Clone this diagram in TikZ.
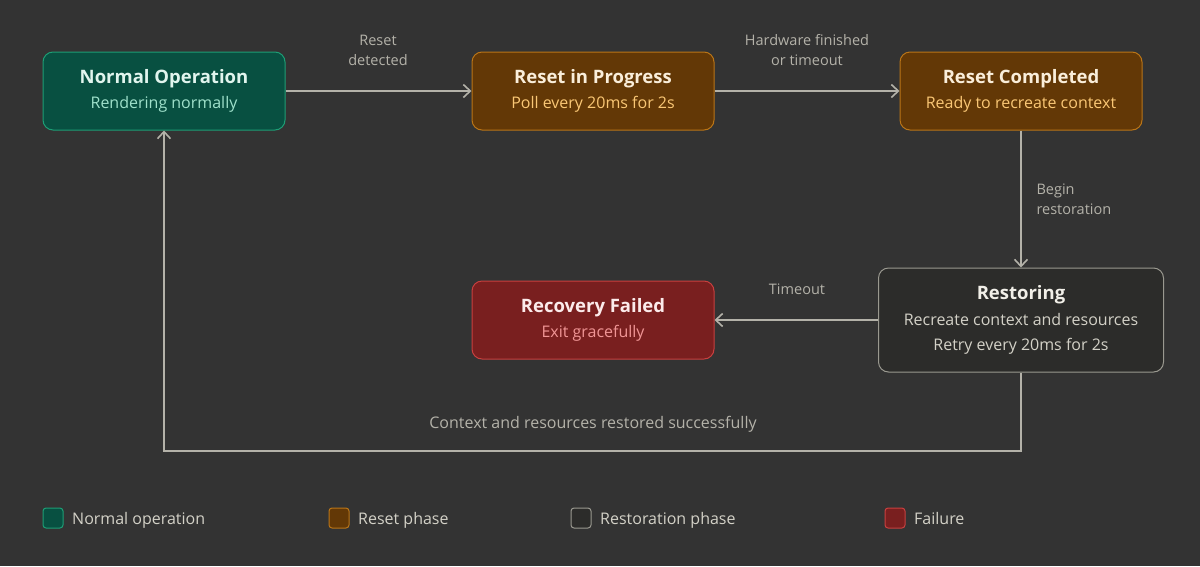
\documentclass[tikz,border=0pt]{standalone}
\usepackage{fontspec}
\setmainfont{Open Sans}
\usetikzlibrary{positioning,arrows.meta}

\definecolor{bgc}{HTML}{333333}
\definecolor{linec}{HTML}{B4B2A9}
\definecolor{labelc}{HTML}{B4B2A9}
\definecolor{tealfill}{HTML}{085041}
\definecolor{tealline}{HTML}{1D9E75}
\definecolor{tealtitle}{HTML}{E1F5EE}
\definecolor{tealsub}{HTML}{9FE1CB}
\definecolor{amberfill}{HTML}{633806}
\definecolor{amberline}{HTML}{BA7517}
\definecolor{ambertitle}{HTML}{FAEEDA}
\definecolor{ambersub}{HTML}{FAC775}
\definecolor{grayfill}{HTML}{2C2C2A}
\definecolor{grayline}{HTML}{9A9990}
\definecolor{graytitle}{HTML}{F1EFE8}
\definecolor{graysub}{HTML}{D3D1C7}
\definecolor{redfill}{HTML}{791F1F}
\definecolor{redline}{HTML}{C8403F}
\definecolor{redtitle}{HTML}{FCEBEB}
\definecolor{redsub}{HTML}{F09595}

\newcommand{\ttl}{\bfseries\fontsize{18.5}{26}\selectfont}
\newcommand{\sub}{\mdseries\fontsize{16}{26}\selectfont}

\begin{document}
\begin{tikzpicture}[x=1pt,y=-1pt,
    state/.style={rounded corners=10pt, line width=1pt, align=center,
                  font=\fontsize{16}{25.5}\selectfont,
                  minimum width=242pt, minimum height=78pt, inner sep=0pt},
    flow/.style={draw=linec, line width=2pt, -{Straight Barb[length=7pt,width=13pt,line width=1.6pt]}},
    lbl/.style={text=labelc, font=\fontsize{14.5}{20}\selectfont, align=center},
    key/.style={rounded corners=3pt, line width=1pt, minimum size=20pt, inner sep=0pt},
    keytext/.style={text=graysub, font=\fontsize{16}{20}\selectfont, anchor=base west, inner sep=0pt}]
    \fill[bgc] (0,0) rectangle (1200,566);

    % states
    \node[state, fill=tealfill, draw=tealline] (normal) at (164,91)
        {\ttl\color{tealtitle}Normal Operation\\\sub\color{tealsub}Rendering normally};
    \node[state, fill=amberfill, draw=amberline] (inprog) at (593,91)
        {\ttl\color{ambertitle}Reset in Progress\\\sub\color{ambersub}Poll every 20ms for 2s};
    \node[state, fill=amberfill, draw=amberline] (done) at (1021,91)
        {\ttl\color{ambertitle}Reset Completed\\\sub\color{ambersub}Ready to recreate context};
    \node[state, fill=grayfill, draw=grayline, minimum width=285pt, minimum height=104pt] (restore) at (1021,320)
        {\ttl\color{graytitle}Restoring\\\sub\color{graysub}Recreate context and resources\\\sub\color{graysub}Retry every 20ms for 2s};
    \node[state, fill=redfill, draw=redline] (failed) at (593,320)
        {\ttl\color{redtitle}Recovery Failed\\\sub\color{redsub}Exit gracefully};

    % transitions
    \draw[flow] (normal) -- (inprog);
    \draw[flow] (inprog) -- (done);
    \draw[flow] (done) -- (restore);
    \draw[flow] (restore) -- (failed);
    \coordinate (low) at (1021,451);
    \draw[flow] (restore.south) -- (low) -| (normal.south);

    \node[lbl] (l1) at (378,50) {Reset\\detected};
    \node[lbl] (l2) at (807,50) {Hardware finished\\or timeout};
    \node[lbl, align=left, anchor=west] (l3) at (1033,199) {Begin\\restoration};
    \node[lbl] (l4) at (797,289) {Timeout};
    \node[lbl, font=\fontsize{16}{20}\selectfont] (l5) at (593,424) {Context and resources restored successfully};

    % legend
    \node[key, fill=tealfill, draw=tealline] (k1) at (53,518) {};
    \node[keytext] at (72,524) {Normal operation};
    \node[key, fill=amberfill, draw=amberline] (k2) at (339,518) {};
    \node[keytext] at (358,524) {Reset phase};
    \node[key, fill=grayfill, draw=grayline] (k3) at (581,518) {};
    \node[keytext] at (600,524) {Restoration phase};
    \node[key, fill=redfill, draw=redline] (k4) at (895,518) {};
    \node[keytext] at (914,524) {Failure};
\end{tikzpicture}
\end{document}
